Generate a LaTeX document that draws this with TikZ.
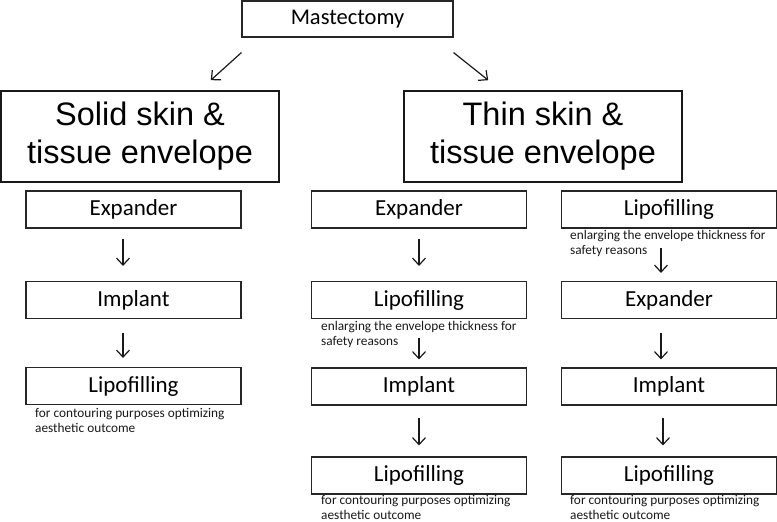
\documentclass[tikz,border=0pt]{standalone}
\usepackage{fontspec}
\setmainfont{Carlito}
\newfontfamily\arialf{Liberation Sans}
\usetikzlibrary{arrows.meta}
\begin{document}
\begin{tikzpicture}[x=1pt,y=1pt,
  stepbox/.style={draw=black!85,line width=1.1pt,inner sep=0pt,minimum width=215pt,minimum height=37pt,font=\fontsize{23}{27}\selectfont},
  bigbox/.style={draw=black!90,line width=1.6pt,inner sep=0pt,minimum width=278pt,minimum height=91pt,align=center,font=\arialf\fontsize{32.5}{38}\selectfont},
  topbox/.style={draw=black!85,line width=1.1pt,inner sep=0pt,minimum width=211pt,minimum height=36pt,font=\fontsize{22.5}{26}\selectfont},
  note/.style={anchor=north west,inner sep=0pt,align=left,font=\fontsize{13.3}{15}\selectfont,text=black!90},
  arr/.style={-{Straight Barb[length=7pt,width=13pt,line width=1.2pt]},line width=1.2pt,draw=black!90}]
\useasboundingbox (0,0) rectangle (777,-522);
% top
\node[topbox] (m) at (347.5,-19) {Mastectomy};
\node[bigbox] (solid) at (140,-136.5) {Solid skin \&\\tissue envelope};
\node[bigbox] (thin) at (543,-136.5) {Thin skin \&\\tissue envelope};
\draw[arr] ([yshift=-15pt]m.south west) -- ([xshift=-69pt,yshift=10pt]solid.north east);
\draw[arr] ([yshift=-15pt]m.south east) -- ([xshift=85pt,yshift=10pt]thin.north west);
% left column
\node[stepbox] (l1) at (133.5,-209.5) {Expander};
\node[stepbox] (l2) at (133.5,-300) {Implant};
\node[stepbox] (l3) at (133.5,-386) {Lipofilling};
\node[note] (n1) at (35,-408.5) {for contouring purposes optimizing\\aesthetic outcome};
\draw[arr] ([xshift=-10.5pt,yshift=-10pt]l1.south) -- ([xshift=-10.5pt,yshift=15pt]l2.north);
\draw[arr] ([xshift=-10.5pt,yshift=-14pt]l2.south) -- ([xshift=-10.5pt,yshift=9pt]l3.north);
% middle column
\node[stepbox] (c1) at (419,-209.5) {Expander};
\node[stepbox] (c2) at (419,-300) {Lipofilling};
\node[stepbox] (c3) at (419,-386.5) {Implant};
\node[stepbox] (c4) at (419,-475.5) {Lipofilling};
\node[note] (n2) at (321,-321.5) {enlarging the envelope thickness for\\safety reasons};
\node[note] (n3) at (321,-495) {for contouring purposes optimizing\\aesthetic outcome};
\draw[arr] ([yshift=-10pt]c1.south) -- ([yshift=15pt]c2.north);
\draw[arr] ([yshift=-19pt]c2.south) -- ([yshift=8pt]c3.north);
\draw[arr] ([yshift=-12pt]c3.south) -- ([yshift=11pt]c4.north);
% right column
\node[stepbox] (r1) at (669,-209.5) {Lipofilling};
\node[stepbox] (r2) at (669,-300) {Expander};
\node[stepbox] (r3) at (669,-386.5) {Implant};
\node[stepbox] (r4) at (669,-475.5) {Lipofilling};
\node[note] (n4) at (570,-230.5) {enlarging the envelope thickness for\\safety reasons};
\node[note] (n5) at (570,-495) {for contouring purposes optimizing\\aesthetic outcome};
\draw[arr] ([xshift=-8pt,yshift=-19pt]r1.south) -- ([xshift=-8pt,yshift=8pt]r2.north);
\draw[arr] ([xshift=-8pt,yshift=-14pt]r2.south) -- ([xshift=-8pt,yshift=8pt]r3.north);
\draw[arr] ([xshift=-6pt,yshift=-12pt]r3.south) -- ([xshift=-6pt,yshift=11pt]r4.north);
\end{tikzpicture}
\end{document}
